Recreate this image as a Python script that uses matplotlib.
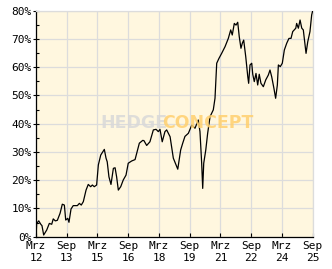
import matplotlib
matplotlib.use("Agg")
import matplotlib.pyplot as plt
from matplotlib.ticker import MultipleLocator, FuncFormatter

# months since March 2012
months = [0, 0.4, 1.6, 2.8, 3.5, 4.5, 6.3, 7.8, 9.2, 10.1, 11.3, 12.5, 14.1, 15.4, 16.6,
          17.4, 18.6, 19.3, 20.5, 21.8, 24.2, 25.4, 26.5, 27.7, 29.3, 30.6, 32.0, 33.0,
          34.1, 35.5, 36.5, 37.9, 40.0, 41.0, 41.7, 42.7, 43.9, 45.3, 46.3, 47.2, 48.2,
          49.6, 51.1, 52.7, 54.0, 56.0, 58.0, 59.1, 60.5, 62.5, 63.2, 64.8, 66.7, 68.7,
          70.3, 71.6, 72.6, 73.9, 75.5, 76.5, 78.5, 80.4, 83.0, 84.7, 85.9, 87.2, 89.2,
          91.2, 93.1, 95.0, 96.0, 97.0, 97.6, 98.2, 99.4, 100.5, 101.9, 103.8, 104.8,
          105.8, 107.1, 108.7, 110.7, 112.6, 114.0, 114.9, 116.1, 117.1, 118.1, 119.0,
          120.0, 120.8, 121.6, 122.8, 124.0, 124.5, 125.3, 126.3, 126.9, 127.8, 128.8,
          129.8, 130.7, 131.7, 133.1, 134.5, 136.0, 137.0, 138.0, 139.3, 140.3, 141.3,
          141.9, 143.0, 144.2, 145.4, 146.8, 148.1, 149.3, 150.3, 151.2, 152.1, 152.6,
          153.6, 154.6, 155.6, 156.5, 157.5, 158.1, 159.1, 160.4, 161.4, 162.0]
values = [0, 4.7, 5.6, 4.4, 3.9, 0.6, 2.4, 4.7, 4.4, 6.3, 5.6, 5.8, 8.3, 11.5, 11.2,
          5.9, 6.5, 5.1, 9.8, 11.0, 11.0, 11.8, 11.2, 12.4, 16.5, 18.5, 17.7, 18.3,
          17.7, 18.3, 25.4, 28.9, 30.9, 27.8, 26.5, 21.2, 18.5, 24.2, 24.4, 21.2, 16.5,
          17.7, 20.1, 21.8, 26.0, 26.8, 27.3, 29.8, 33.1, 34.1, 34.0, 32.3, 33.6, 37.8,
          38.0, 37.2, 38.0, 33.6, 37.2, 37.8, 35.4, 27.8, 23.9, 30.7, 33.1, 35.5, 36.6,
          39.5, 38.4, 41.3, 37.2, 26.0, 17.1, 26.0, 30.7, 36.6, 42.5, 44.9, 49.0,
          61.4, 63.1, 64.9, 67.3, 70.2, 73.2, 71.4, 75.5, 74.9, 75.9, 70.8,
          66.7, 68.5, 69.6, 63.7, 56.6, 54.3, 60.8, 61.4, 57.5, 54.9, 57.8,
          53.7, 57.5, 54.3, 53.1, 55.5, 57.2, 59.0, 56.6, 52.5, 49.0, 53.7,
          60.8, 60.2, 61.4, 66.1, 68.5, 70.2, 70.2, 72.6, 73.2, 73.8, 75.5,
          73.8, 76.7, 73.8, 73.2, 67.9, 64.9, 69.0, 72.6, 78.5, 80.0]

tick_months = [0, 18, 36, 54, 72, 90, 108, 126, 144, 162]
tick_labels = ["Mrz\n12", "Sep\n13", "Mrz\n15", "Sep\n16", "Mrz\n18",
               "Sep\n19", "Mrz\n21", "Sep\n22", "Mrz\n24", "Sep\n25"]

fig = plt.figure(figsize=(3.32, 2.69), dpi=100)
fig.patch.set_facecolor("white")
ax = fig.add_axes([36/332, 1-236.7/269, 276.7/332, 226/269])
ax.set_facecolor("#fff7df")

ax.plot(months, values, color="black", lw=0.9, zorder=3)

ax.set_xlim(0, 162)
ax.set_ylim(0, 80)
ax.set_xticks(tick_months)
ax.set_xticklabels(tick_labels, fontfamily="DejaVu Sans Mono", fontsize=8, linespacing=1.25)
ax.yaxis.set_major_locator(MultipleLocator(10))
ax.yaxis.set_minor_locator(MultipleLocator(5))
ax.yaxis.set_major_formatter(FuncFormatter(lambda v, p: f"{int(v)}%"))
ax.tick_params(axis="y", which="major", direction="inout", length=4.5, width=0.8,
               pad=1, labelsize=8, labelfontfamily="DejaVu Sans Mono")
ax.tick_params(axis="y", which="minor", direction="in", length=2.5, width=0.8)
ax.tick_params(axis="x", which="major", direction="in", length=3, width=0.8, pad=3,
               labelsize=8)

ax.grid(True, which="major", color="#dcdcdc", lw=0.9, zorder=1)
ax.set_axisbelow(True)
for s in ["top", "right"]:
    ax.spines[s].set_color("#dcdcdc")
    ax.spines[s].set_linewidth(0.9)
for s in ["left", "bottom"]:
    ax.spines[s].set_color("black")
    ax.spines[s].set_linewidth(0.9)

# watermark
ax.text(0.231, 0.505, "HEDGE", transform=ax.transAxes, fontsize=12.5,
        fontweight="bold", family="DejaVu Sans", color="#d9d9d9", alpha=0.85,
        ha="left", va="center", zorder=4)
ax.text(0.455, 0.505, "CONCEPT", transform=ax.transAxes, fontsize=12.5,
        fontweight="bold", family="DejaVu Sans", color="#ffd06e", alpha=0.85,
        ha="left", va="center", zorder=4)

fig.savefig("out.png", dpi=100)
